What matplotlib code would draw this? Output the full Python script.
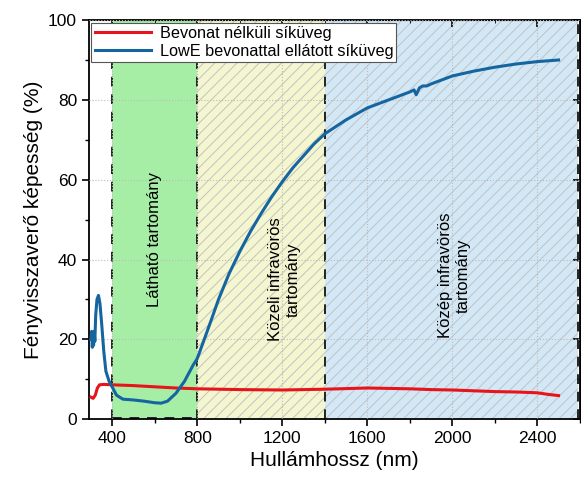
import numpy as np
import matplotlib.pyplot as plt
from matplotlib.patches import Rectangle
from matplotlib.ticker import MultipleLocator

plt.rcParams['font.family'] = ['Liberation Sans', 'DejaVu Sans']
plt.rcParams['hatch.linewidth'] = 0.7

# LowE coated glass
wl_lowe = [300, 303, 306, 309, 312, 315, 318, 322, 328, 335, 342, 350, 360, 370, 385, 400,
           420, 450, 500, 550, 600, 630, 660, 700, 740, 780, 800, 850, 900, 950, 1000,
           1050, 1100, 1150, 1200, 1250, 1300, 1350, 1400, 1500, 1600, 1700, 1800, 1820,
           1830, 1845, 1860, 1880, 1900, 2000, 2100, 2200, 2300, 2400, 2500]
r_lowe = [20, 22, 18, 21.5, 18.5, 22, 19.5, 26, 30, 31, 29, 24, 17, 12, 9.5, 8,
          6, 5, 4.8, 4.5, 4.1, 4.0, 4.5, 6.5, 9.5, 13.5, 15.2, 22.5, 30, 36.5, 42,
          47, 51.5, 55.7, 59.5, 63, 66, 69, 71.5, 75, 78, 80, 82, 82.5,
          81.3, 83, 83.5, 83.5, 84, 86, 87.2, 88.2, 89, 89.6, 90]

# uncoated glass
wl_plain = [300, 310, 320, 330, 340, 360, 400, 500, 600, 700, 800, 1000, 1200, 1400,
            1600, 1800, 1900, 2000, 2100, 2200, 2300, 2400, 2450, 2500]
r_plain = [5.5, 5.2, 6, 7.8, 8.6, 8.7, 8.6, 8.4, 8.1, 7.8, 7.6, 7.4, 7.3, 7.5,
           7.8, 7.6, 7.4, 7.3, 7.1, 6.9, 6.8, 6.6, 6.2, 5.9]

regions = [(400, 800), (800, 1400), (1400, 2590)]
region_colors = ['#a6eea6', '#f4f6cf', '#d3e8f6']
region_hatch = [None, '///', '///']
region_labels = ['Látható tartomány', 'Közeli infravörös\ntartomány', 'Közép infravörös\ntartomány']
label_pos = [(600, 45), (1210, 35), (2010, 36)]
boundaries = [400, 800, 1400, 2590]

fig = plt.figure(figsize=(5.81, 4.79), dpi=100)
ax = fig.add_axes([0.153, 0.125, 0.845, 0.833])

for (a, b), c, h in zip(regions, region_colors, region_hatch):
    ax.add_patch(Rectangle((a, 0), b - a, 100, facecolor=c, hatch=h,
                           edgecolor='#c2c2c2', lw=0, zorder=0))
ax.vlines(boundaries, 0, 100, colors='#222222', linestyles=(0, (5, 4)), lw=1.4, zorder=1)
ax.hlines(0.4, 400, 800, colors='#222222', linestyles=(0, (5, 4)), lw=1.4, zorder=1)

for txt, (x, y) in zip(region_labels, label_pos):
    ax.text(x, y, txt, rotation=90, ha='center', va='center', fontsize=12, zorder=3)

ax.grid(True, which='major', ls=':', color='#bbbbbb', lw=0.8, zorder=0.5)
ax.set_axisbelow(False)

ax.plot(wl_plain, r_plain, color='#e8141b', lw=2.2, label='Bevonat nélküli síküveg', zorder=4)
ax.plot(wl_lowe, r_lowe, color='#1565a0', lw=2.2, label='LowE bevonattal ellátott síküveg', zorder=4)

ax.set_xlim(290, 2600)
ax.set_ylim(0, 100)
ax.xaxis.set_major_locator(MultipleLocator(400))
ax.xaxis.set_minor_locator(MultipleLocator(200))
ax.yaxis.set_major_locator(MultipleLocator(20))
ax.yaxis.set_minor_locator(MultipleLocator(10))
ax.set_xticks([400, 800, 1200, 1600, 2000, 2400])
ax.tick_params(which='major', length=5, width=1.2, labelsize=12.5)
ax.tick_params(which='minor', length=3, width=1)
for s in ax.spines.values():
    s.set_linewidth(1.3)

top = ax.secondary_xaxis('top')
top.xaxis.set_major_locator(MultipleLocator(400))
top.xaxis.set_minor_locator(MultipleLocator(200))
top.tick_params(which='both', direction='in', labeltop=False)
top.tick_params(which='major', length=5, width=1.2)
right = ax.secondary_yaxis('right')
right.yaxis.set_major_locator(MultipleLocator(20))
right.yaxis.set_minor_locator(MultipleLocator(10))
right.tick_params(which='both', direction='in', labelright=False)
right.tick_params(which='major', length=5, width=1.2)

ax.set_xlabel('Hullámhossz (nm)', fontsize=15)
ax.set_ylabel('Fényvisszaverő képesség (%)', fontsize=15)

leg = ax.legend(loc='upper left', fontsize=11.7, frameon=True, fancybox=False,
                edgecolor='#555555', framealpha=1, borderaxespad=0.15,
                handlelength=3.5, borderpad=0.2, labelspacing=0.2, handletextpad=0.5)
leg.get_frame().set_linewidth(0.8)
leg.set_zorder(5)

fig.savefig('out.png', dpi=100)
